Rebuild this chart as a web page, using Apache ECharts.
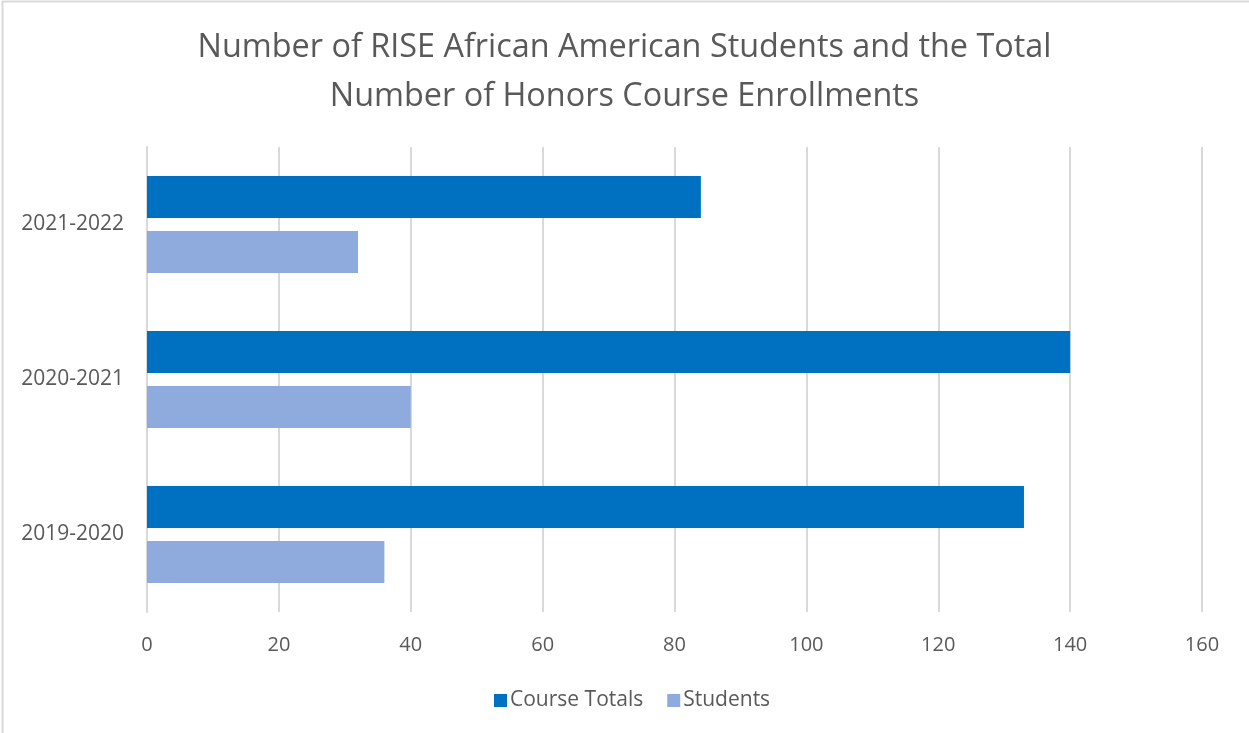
<!DOCTYPE html>
<html>
<head>
<meta charset="utf-8">
<title>RISE Honors Course Enrollments</title>
<script src="https://cdn.jsdelivr.net/npm/echarts@6/dist/echarts.min.js"></script>
<style>
  html, body { margin: 0; padding: 0; background: #ffffff; }
  #chart { width: 1249px; height: 733px; }
</style>
</head>
<body>
<div id="chart"></div>
<script>
// School years, bottom to top on the category axis
const years = ['2019-2020', '2020-2021', '2021-2022'];

// Total honors course enrollments per year
const courseTotals = [133, 140, 84];

// RISE African American students per year
const students = [36, 40, 32];

// Value axis ticks
const xTicks = [0, 20, 40, 60, 80, 100, 120, 140, 160];

const FONT = '"Open Sans", "Noto Sans", sans-serif';
const TEXT = '#595959';

const chart = echarts.init(document.getElementById('chart'), null, { renderer: 'canvas' });

chart.setOption({
  backgroundColor: '#ffffff',
  animation: false,
  title: {
    text: 'Number of RISE African American Students and the Total\nNumber of Honors Course Enrollments',
    left: 'center',
    top: 18,
    textStyle: {
      fontFamily: FONT,
      fontWeight: 400,
      fontSize: 32.4,
      lineHeight: 49,
      color: TEXT
    }
  },
  legend: {
    data: ['Course Totals', 'Students'],
    left: 489,
    top: 685,
    itemWidth: 13,
    itemHeight: 13,
    itemGap: 24,
    icon: 'rect',
    textStyle: { fontFamily: FONT, fontSize: 21, color: TEXT, padding: [0, 0, 0, -2] }
  },
  grid: {
    left: 147,
    right: 47,
    top: 147,
    bottom: 121,
    containLabel: false
  },
  xAxis: {
    type: 'value',
    min: xTicks[0],
    max: xTicks[xTicks.length - 1],
    interval: xTicks[1] - xTicks[0],
    axisLine: { show: false },
    axisTick: { show: false },
    axisLabel: { fontFamily: FONT, fontSize: 20, color: TEXT, margin: 23 },
    splitLine: { show: true, lineStyle: { color: '#d9d9d9', width: 2 } }
  },
  yAxis: {
    type: 'category',
    data: years,
    axisLine: { show: true, lineStyle: { color: '#d9d9d9', width: 2 } },
    axisTick: { show: false },
    axisLabel: { fontFamily: FONT, fontSize: 21, color: TEXT, margin: 23 },
    splitLine: { show: false }
  },
  series: [
    {
      name: 'Course Totals',
      type: 'bar',
      data: courseTotals,
      barWidth: 42,
      barGap: '31%',
      itemStyle: { color: '#0070c0' }
    },
    {
      name: 'Students',
      type: 'bar',
      data: students,
      barWidth: 42,
      barGap: '31%',
      itemStyle: { color: '#8faadc' }
    }
  ],
  graphic: [
    {
      type: 'polyline',
      silent: true,
      shape: { points: [[2.5, 733], [2.5, 1.5], [1249, 1.5]] },
      style: { stroke: '#d9d9d9', lineWidth: 2, fill: null }
    }
  ]
});
</script>
</body>
</html>
